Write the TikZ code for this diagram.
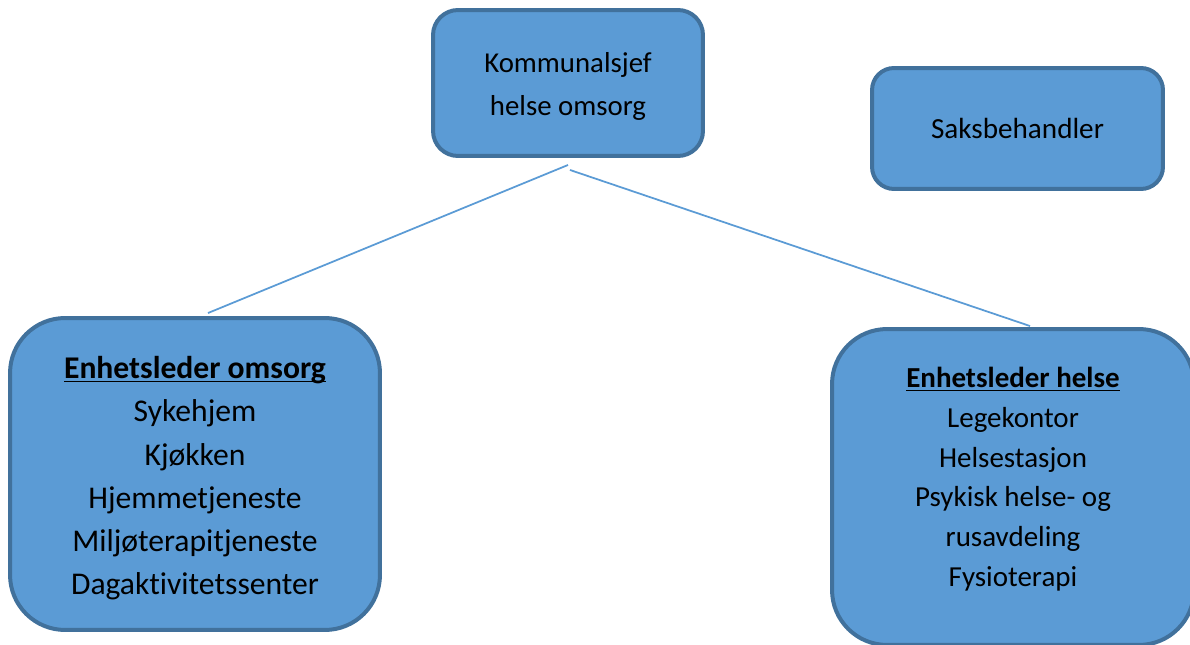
\documentclass[tikz,border=0pt]{standalone}
\usepackage{fontspec}
\setmainfont{Carlito}[Ligatures=NoCommon,RawFeature={-liga;-calt;-dlig}]
\definecolor{boxfill}{HTML}{5B9BD5}
\definecolor{boxedge}{HTML}{41719C}
\newcommand{\ulhead}[1]{\underline{\smash{\textbf{#1}}}\vphantom{\textbf{#1}}}
\newcommand{\lift}[2]{\raisebox{#1}[\height][\depth]{\begin{tabular}{@{}c@{}}#2\end{tabular}}}
\begin{document}
\begin{tikzpicture}[x=0.02cm,y=-0.02cm]
\tikzstyle{orgbox}=[draw=boxedge,fill=boxfill,line width=0.08cm,align=center,inner sep=0pt]
\tikzstyle{link}=[draw=boxfill,line width=0.035cm]
\useasboundingbox (0,0) rectangle (1190,645);
\clip (0,0) rectangle (1190,645);

\node[orgbox,rounded corners=0.5cm,minimum width=5.4cm,minimum height=2.92cm,
  font=\fontsize{16.4}{24.4}\selectfont] (kommunalsjef) at (568,83) {\lift{-0.04cm}{Kommunalsjef\\helse omsorg}};
\node[orgbox,rounded corners=0.44cm,minimum width=5.82cm,minimum height=2.42cm,
  font=\fontsize{16.6}{22}\selectfont] (saksbehandler) at (1017.5,128.5) {\lift{-0.04cm}{Saksbehandler}};

\node[orgbox,rounded corners=1.1cm,minimum width=7.4cm,minimum height=6.24cm,
  font=\fontsize{18}{24.6}\selectfont] (omsorg) at (195,474)
  {\lift{-0.08cm}{\ulhead{Enhetsleder omsorg}\\Sykehjem\\Kjøkken\\Hjemmetjeneste\\Miljøterapitjeneste\\Dagaktivitetssenter}};
\node[orgbox,rounded corners=1.1cm,minimum width=7.24cm,minimum height=6.32cm,
  font=\fontsize{16.5}{22.6}\selectfont] (helse) at (1013,487)
  {\lift{0.16cm}{\ulhead{Enhetsleder helse}\\Legekontor\\Helsestasjon\\Psykisk helse- og\\rusavdeling\\Fysioterapi}};

\draw[link] ([yshift=-0.14cm]kommunalsjef.south) -- ([xshift=0.26cm,yshift=0.06cm]omsorg.north);
\draw[link] ([xshift=0.04cm,yshift=-0.24cm]kommunalsjef.south) -- ([xshift=0.34cm,yshift=0.02cm]helse.north);
\end{tikzpicture}
\end{document}
